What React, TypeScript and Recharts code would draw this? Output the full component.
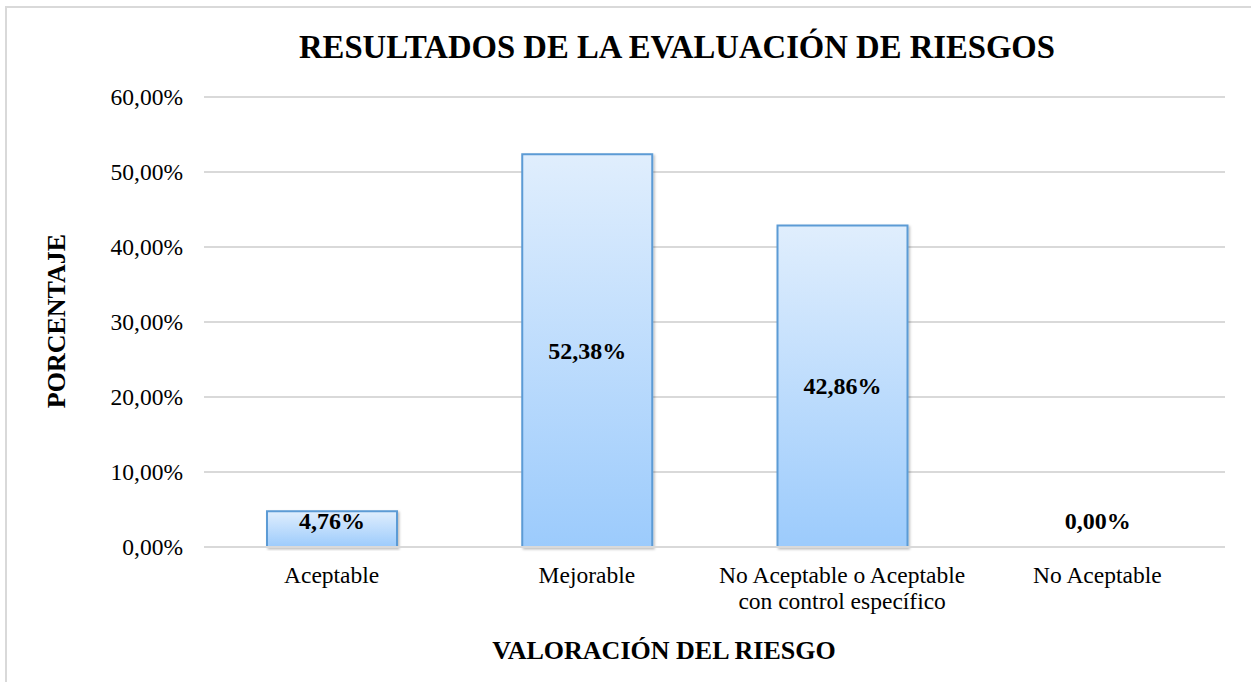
import { BarChart, Bar, Cell, XAxis, YAxis, CartesianGrid } from 'recharts';

const categories = ['Aceptable', 'Mejorable', 'No Aceptable o Aceptable con control específico', 'No Aceptable'];
const tickLines = [['Aceptable'], ['Mejorable'], ['No Aceptable o Aceptable', 'con control específico'], ['No Aceptable']];
const percentages = [4.76, 52.38, 42.86, 0];
const yTicks = [0, 10, 20, 30, 40, 50, 60];

const chartData = categories.map((name, i) => ({ name, value: percentages[i] }));

const FONT = '"Liberation Serif", "Times New Roman", serif';
const fmt = (v: number) => v.toFixed(2).replace('.', ',') + '%';

function CategoryTick(props: any) {
  const { x, y, index } = props;
  const lines = tickLines[index] || [];
  return (
    <text x={x} y={y} textAnchor="middle" fontFamily={FONT} fontSize={23.5} fill="#000">
      {lines.map((l, i) => (
        <tspan key={i} x={x} dy={i === 0 ? 0 : 26}>{l}</tspan>
      ))}
    </text>
  );
}

// label sits in the middle of the bar, but never closer than 26px to the baseline
function ValueLabel(props: any) {
  const { x, y, width, height, value } = props;
  const h = height || 0;
  const base = y + h;
  const cy = Math.min(y + h / 2, base - 26);
  return (
    <text x={x + width / 2} y={cy} dy={8} textAnchor="middle" fontFamily={FONT} fontSize={24} fontWeight="bold" fill="#000">
      {fmt(Number(value) || 0)}
    </text>
  );
}

export default function App() {
  return (
    <div style={{ position: 'absolute', left: 0, top: 0, width: 1251, height: 682, overflow: 'hidden', background: '#fff' }}>
      <div style={{ position: 'absolute', left: 5, top: 6, width: 1300, height: 800, border: '2px solid #d9d9d9' }} />
      <BarChart
        width={1251}
        height={682}
        data={chartData}
        margin={{ top: 97, right: 26, bottom: 105, left: 0 }}
        style={{ position: 'absolute', left: 0, top: 0 }}
      >
        <defs>
          <linearGradient id="barFill" x1="0" y1="0" x2="0" y2="1">
            <stop offset="0%" stopColor="#e0eefd" />
            <stop offset="100%" stopColor="#9ccbfc" />
          </linearGradient>
          <filter id="barShadow" x="-10%" y="-10%" width="120%" height="120%">
            <feDropShadow dx="1.5" dy="1.5" stdDeviation="1.2" floodColor="#000" floodOpacity="0.25" />
          </filter>
        </defs>
        <CartesianGrid vertical={false} stroke="#d9d9d9" strokeWidth={2} />
        <XAxis
          dataKey="name"
          axisLine={{ stroke: '#d9d9d9', strokeWidth: 2 }}
          tickLine={false}
          tickSize={0}
          tickMargin={36}
          interval={0}
          tick={<CategoryTick />}
        />
        <YAxis
          domain={[0, 60]}
          ticks={yTicks}
          width={204}
          axisLine={false}
          tickLine={false}
          tickSize={0}
          tickMargin={21}
          tickFormatter={(v: number) => fmt(v)}
          tick={{ fontFamily: FONT, fontSize: 23.5, fill: '#000' }}
        />
        <Bar
          dataKey="value"
          barSize={130}
          minPointSize={1}
          fill="url(#barFill)"
          stroke="#5b9bd5"
          strokeWidth={2}
          isAnimationActive={false}
          label={<ValueLabel />}
        >
          {percentages.map((v, i) => (
            <Cell
              key={i}
              fill={v === 0 ? 'none' : 'url(#barFill)'}
              stroke={v === 0 ? 'none' : '#5b9bd5'}
              filter={v === 0 ? undefined : 'url(#barShadow)'}
            />
          ))}
        </Bar>
      </BarChart>
      <svg width={1251} height={682} style={{ position: 'absolute', left: 0, top: 0, pointerEvents: 'none' }}>
        <text x={677} y={58} textAnchor="middle" fontFamily={FONT} fontSize={32.7} fontWeight="bold" fill="#000">
          RESULTADOS DE LA EVALUACIÓN DE RIESGOS
        </text>
        <text x={664} y={659} textAnchor="middle" fontFamily={FONT} fontSize={26} fontWeight="bold" fill="#000">
          VALORACIÓN DEL RIESGO
        </text>
        <text x={65} y={321} transform="rotate(-90 65 321)" textAnchor="middle" fontFamily={FONT} fontSize={26} fontWeight="bold" fill="#000">
          PORCENTAJE
        </text>
      </svg>
    </div>
  );
}
